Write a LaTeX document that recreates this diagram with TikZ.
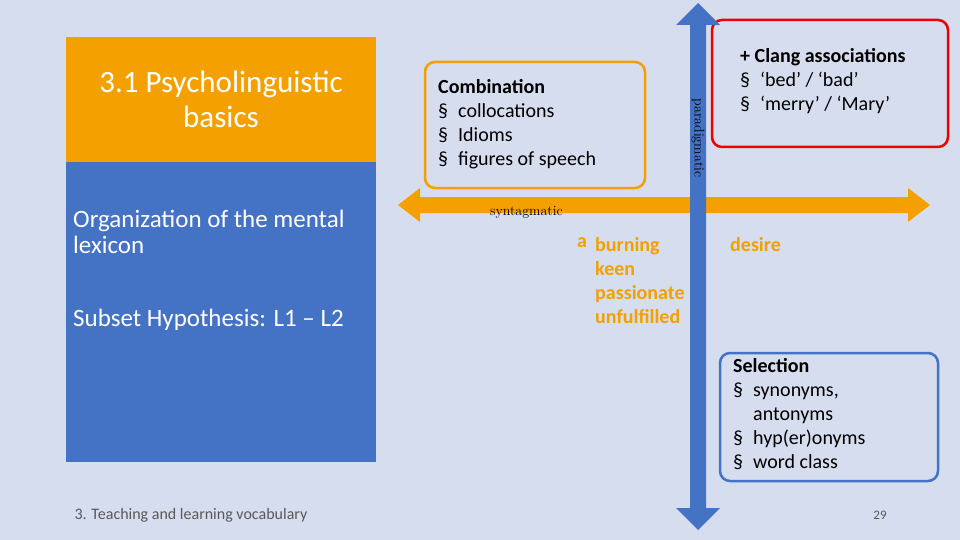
\documentclass[tikz,border=0pt]{standalone}
\usepackage{fontspec}
\setmainfont{Carlito}
\usetikzlibrary{positioning}
\definecolor{bgblue}{RGB}{214,221,238}
\definecolor{boxorange}{RGB}{244,160,0}
\definecolor{boxblue}{RGB}{68,114,196}
\definecolor{boxred}{RGB}{238,0,0}
\definecolor{footgray}{RGB}{89,89,89}
\tikzset{
  panel/.style={line width=2.5pt, rounded corners=10pt, fill=bgblue},
  bodytext/.style={anchor=north west, align=left, font=\fontsize{20}{24}\selectfont, inner sep=0pt},
  wordlist/.style={anchor=north west, align=left, text=boxorange, font=\bfseries\fontsize{20}{24}\selectfont, inner sep=0pt}
}
\newcommand{\bul}{\makebox[20pt][l]{\S}}
\begin{document}
\begin{tikzpicture}[x=1pt,y=-1pt]
        \fill[bgblue] (0,0) rectangle (960,540);
        \useasboundingbox (0,0) rectangle (960,540);
        %left panel
        \fill[boxorange] (66,37) rectangle (376,162);
        \fill[boxblue] (66,162) rectangle (376,462);
        \node[text=white, align=center, font=\fontsize{31}{35}\selectfont] (title) at (221,99) {3.1 Psycholinguistic\\basics};
        \node[anchor=north west, align=left, inner sep=0pt, text=white, font=\fontsize{25}{26}\selectfont] (organization) at (73,210) {Organization of the mental\\lexicon};
        \node[anchor=north west, inner sep=0pt, text=white, font=\fontsize{25}{26}\selectfont] (subset) at (73,309) {Subset Hypothesis: L1 -- L2};
        \node[anchor=west, text=footgray, font=\fontsize{16}{18}\selectfont] (footer) at (71,515) {3. Teaching and learning vocabulary};
        \node[text=footgray, font=\fontsize{13}{15}\selectfont] (pagenum) at (880,515) {29};
        %boxes
        \draw[panel, draw=boxorange] (425,62) rectangle (645,188);
        \node[bodytext] (combination) at (438,79) {\textbf{Combination}\\\bul collocations\\\bul Idioms\\\bul figures of speech};
        \draw[panel, draw=boxred] (712,20) rectangle (948,147);
        \node[bodytext] (clang) at (740,48) {\textbf{+ Clang associations}\\\bul `bed' / `bad'\\\bul `merry' / `Mary'};
        \draw[panel, draw=boxblue] (720,353) rectangle (938,481);
        \node[bodytext] (selection) at (733,358) {\textbf{Selection}\\\bul synonyms,\\\hspace*{20pt}antonyms\\\bul hyp(er)onyms\\\bul word class};
        %horizontal arrow
        \fill[boxorange] (398,205) -- (420,188) -- (420,197) -- (908,197) -- (908,188) -- (930,205)
          -- (908,222) -- (908,213) -- (420,213) -- (420,222) -- cycle;
        %vertical arrow
        \fill[boxblue] (698,3) -- (720,25) -- (706,25) -- (706,508) -- (720,508) -- (698,530)
          -- (676,508) -- (690,508) -- (690,25) -- (676,25) -- cycle;
        \node[rotate=-90, font=\fontfamily{lmr}\fontsize{14}{16}\selectfont] (paradigmatic) at (698,138) {paradigmatic};
        \node[anchor=west, font=\fontfamily{lmr}\fontsize{14}{16}\selectfont, inner sep=0pt] (syntagmatic) at (490,212) {syntagmatic};
        %words
        \node[wordlist] (article) at (577,237) {a};
        \node[wordlist] (adjectives) at (595,237) {burning\\keen\\passionate\\unfulfilled};
        \node[wordlist] (noun) at (730,237) {desire};
    \end{tikzpicture}
\end{document}
